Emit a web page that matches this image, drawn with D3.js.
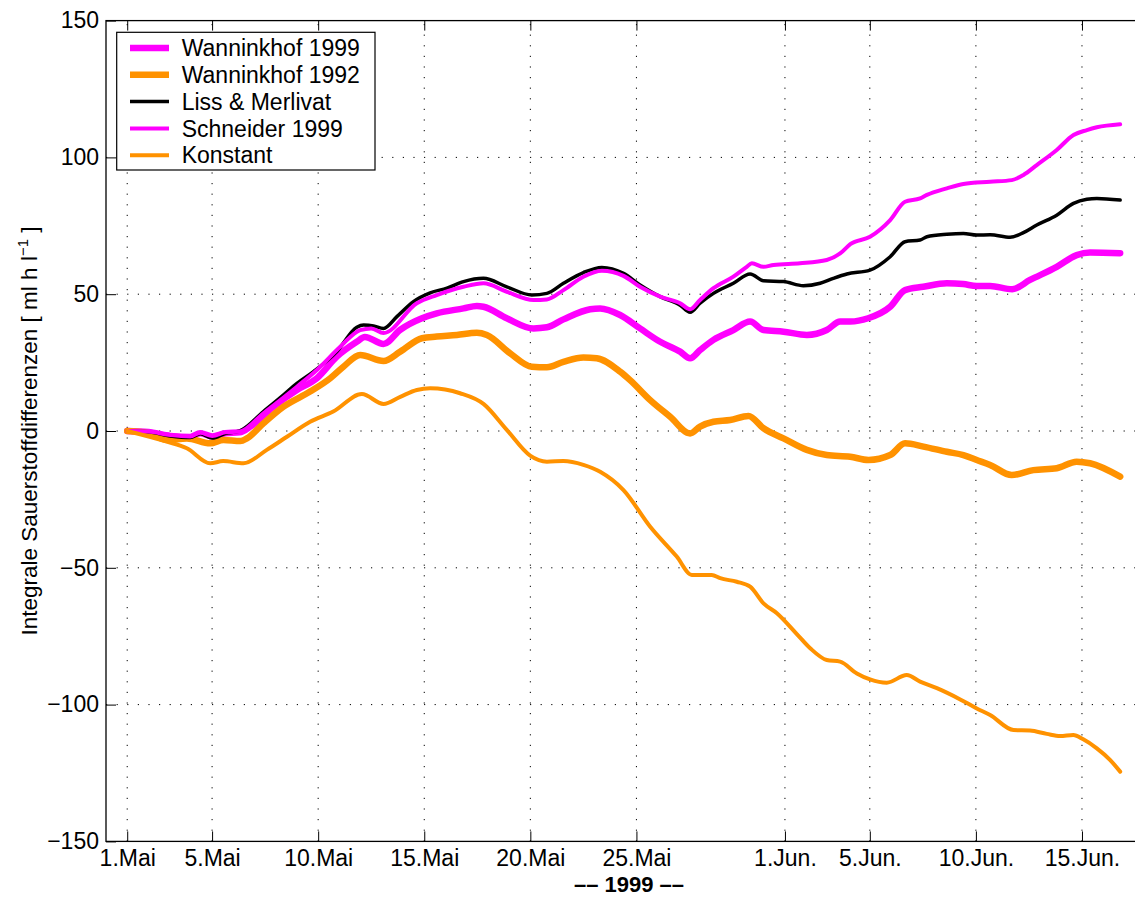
<!DOCTYPE html>
<html>
<head>
<meta charset="utf-8">
<script src="https://cdn.jsdelivr.net/npm/d3@7"></script>
<style>
  body { margin: 0; background: #fff; }
  svg { display: block; }
  text { font-family: "Liberation Sans", Arial, Helvetica, sans-serif; }
</style>
</head>
<body>
<svg id="chart" width="1135" height="914"></svg>
<script>
// Tage seit 1. Mai 1999 (0 = 1.Mai 00:00) und integrale Werte
const w99Tage  = [0, 0.99, 2.03, 2.97, 3.44, 4.01, 4.62, 5.3, 5.8, 6.89, 8.0, 8.94, 9.88, 10.82, 11.2, 12.08, 12.87, 13.89, 14.59, 15.85, 16.48, 16.79, 17.89, 19.15, 19.78, 20.56, 21.82, 22.29, 23.23, 24.17, 25.12, 26.06, 26.53, 27.0, 27.63, 28.57, 29.36, 29.99, 30.93, 32.03, 32.97, 33.6, 34.08, 34.92, 35.96, 36.66, 37.52, 38.63, 39.4, 40.04, 40.67, 41.71, 42.55, 43.81, 44.75, 45.38, 46.8];
const w99Werte = [0, -0.4, -1.8, -2.2, -0.8, -2.0, -0.8, -0.5, 1.6, 8.9, 15.0, 19.3, 27.2, 32.6, 34.4, 31.8, 37.0, 41.2, 43.0, 44.8, 45.7, 45.4, 41.2, 37.5, 37.9, 40.8, 44.5, 44.8, 42.4, 37.5, 32.6, 29.0, 26.6, 29.6, 33.3, 36.9, 40.0, 36.9, 36.3, 35.1, 36.9, 40.0, 40.0, 41.2, 45.4, 51.5, 52.7, 54.0, 53.7, 53.0, 53.0, 51.8, 55.2, 60.0, 64.3, 65.2, 65.0];

const w92Tage  = [0, 1.08, 1.87, 2.81, 3.91, 4.54, 5.33, 5.64, 6.42, 7.37, 8.62, 9.57, 10.19, 10.98, 12.08, 12.87, 13.89, 14.59, 15.54, 16.48, 16.95, 18.05, 19.07, 19.78, 20.56, 21.5, 22.13, 23.23, 23.7, 24.65, 25.59, 26.53, 27.0, 27.63, 28.42, 29.28, 29.99, 30.93, 32.03, 32.97, 34.08, 34.94, 35.96, 36.66, 37.53, 38.63, 39.41, 40.04, 40.67, 41.69, 42.71, 43.81, 44.75, 45.38, 46.8];
const w92Werte = [0, -0.9, -3.3, -2.7, -4.5, -3.3, -3.7, -2.7, 2.8, 8.9, 14.4, 19.3, 23.5, 27.8, 25.6, 29.0, 33.9, 34.5, 35.1, 35.9, 35.1, 28.4, 23.5, 23.3, 25.3, 26.9, 26.6, 21.7, 18.6, 11.3, 5.2, -0.9, 1.6, 3.4, 4.0, 5.5, 1.0, -2.7, -6.9, -8.8, -9.4, -10.6, -8.8, -4.5, -5.7, -7.6, -8.8, -10.6, -12.4, -16.1, -14.3, -13.6, -11.2, -11.8, -16.7];

const lmTage  = [0, 0.99, 2.03, 2.97, 3.44, 4.01, 4.62, 5.3, 6.42, 7.37, 8.0, 8.78, 9.88, 10.82, 11.14, 11.61, 12.08, 12.71, 13.49, 14.28, 15.07, 15.85, 16.79, 17.89, 19.07, 19.78, 20.56, 21.5, 22.37, 23.39, 24.17, 25.12, 26.06, 26.53, 27.0, 27.63, 28.57, 29.36, 29.99, 30.93, 31.87, 32.66, 33.28, 33.92, 35.01, 35.96, 36.66, 37.37, 37.69, 38.63, 39.41, 40.04, 40.67, 41.61, 42.24, 42.87, 43.81, 44.6, 45.23, 45.7, 46.8];
const lmWerte = [0, -0.3, -1.8, -2.4, -1.0, -2.6, -0.9, 0.0, 7.1, 13.2, 17.4, 21.7, 29.0, 37.9, 38.7, 38.4, 37.5, 41.8, 47.3, 50.5, 52.2, 54.6, 55.8, 52.7, 49.7, 50.3, 54.0, 57.9, 59.8, 57.6, 53.4, 49.1, 46.0, 43.4, 46.7, 50.3, 54.0, 57.4, 54.9, 54.6, 53.1, 54.0, 55.8, 57.4, 58.8, 63.7, 69.2, 69.8, 71.0, 71.9, 72.2, 71.6, 71.7, 70.8, 72.5, 75.3, 78.9, 83.2, 84.7, 85.0, 84.4];

const s99Tage  = [0, 0.99, 2.03, 2.97, 3.44, 4.01, 4.62, 5.3, 6.42, 8.0, 8.94, 10.04, 10.98, 11.5, 12.08, 13.65, 14.59, 15.85, 16.79, 17.89, 19.15, 19.78, 20.56, 21.5, 22.37, 23.39, 24.17, 25.12, 26.06, 26.53, 27.0, 27.63, 28.57, 29.2, 29.44, 29.99, 30.46, 31.71, 32.97, 33.6, 34.08, 35.01, 35.96, 36.66, 37.37, 37.69, 38.63, 39.41, 40.67, 41.69, 42.24, 42.87, 43.81, 44.6, 45.23, 45.7, 46.8];
const s99Werte = [0, -0.2, -1.5, -2.0, -0.6, -1.8, -0.5, -0.2, 6.5, 16.2, 22.3, 30.8, 36.9, 37.5, 35.8, 46.7, 49.7, 52.7, 54.0, 50.9, 47.9, 48.1, 51.5, 56.4, 58.6, 56.7, 52.7, 49.1, 46.7, 44.5, 47.9, 52.2, 56.4, 60.0, 61.3, 60.0, 60.7, 61.3, 62.5, 64.9, 68.3, 71.0, 77.1, 83.8, 85.0, 86.3, 88.7, 90.3, 91.1, 91.7, 93.6, 97.2, 102.7, 108.2, 110.0, 111.0, 112.1];

const konTage  = [0, 1.87, 2.81, 3.91, 4.52, 5.48, 6.58, 7.53, 8.62, 9.71, 11.06, 12.08, 12.87, 13.65, 14.28, 15.69, 16.79, 17.89, 18.99, 19.78, 20.56, 21.5, 22.29, 23.39, 24.65, 25.9, 26.61, 27.55, 27.95, 28.73, 29.36, 29.99, 30.62, 31.56, 32.19, 32.97, 33.6, 34.39, 35.01, 35.8, 36.74, 37.37, 38.16, 39.26, 40.04, 40.67, 41.77, 42.55, 43.34, 43.97, 44.59, 45.06, 45.7, 46.32, 46.8];
const konWerte = [0, -3.9, -6.3, -11.8, -11.0, -11.8, -6.9, -2.1, 3.4, 7.1, 13.5, 9.9, 12.5, 15.0, 15.6, 13.8, 9.9, 0.4, -9.0, -11.2, -11.0, -12.4, -14.9, -21.6, -35.0, -45.9, -52.6, -52.6, -53.8, -55.1, -56.9, -63.0, -66.6, -74.2, -79.4, -83.7, -84.3, -88.6, -90.8, -92.0, -89.2, -91.6, -94.0, -98.1, -101.4, -103.8, -109.3, -109.5, -110.7, -111.5, -111.1, -112.7, -116.0, -120.2, -124.5];

const serienNamen = ["Wanninkhof 1999", "Wanninkhof 1992", "Liss & Merlivat", "Schneider 1999", "Konstant"];

const xTickTage   = [0, 4, 9, 14, 19, 24, 31, 35, 40, 45];
const xTickLabels = ["1.Mai", "5.Mai", "10.Mai", "15.Mai", "20.Mai", "25.Mai", "1.Jun.", "5.Jun.", "10.Jun.", "15.Jun."];
const yTicks = [-150, -100, -50, 0, 50, 100, 150];

/////////////////////////////
const plotLeft = 106, plotRight = 1152, plotTop = 20.6, plotBottom = 841.4;
const fontSize = 23;
const orange = "#ff9200", magenta = "#ff00ff";

const t0 = Date.UTC(1999, 4, 1);
const toDate = d => new Date(t0 + d * 864e5);

const x = d3.scaleUtc().domain([toDate(-1), toDate(48.3)]).range([plotLeft, plotRight]);
const y = d3.scaleLinear().domain([-150, 150]).range([plotBottom, plotTop]);

const svg = d3.select("#chart");

svg.append("defs").append("clipPath").attr("id", "plotclip")
  .append("rect")
  .attr("x", plotLeft).attr("y", plotTop)
  .attr("width", plotRight - plotLeft).attr("height", plotBottom - plotTop);

// grid (dotted)
const grid = svg.append("g")
  .attr("stroke", "#000")
  .attr("stroke-width", 1)
  .attr("stroke-dasharray", "1.2,9.4");

grid.selectAll(".vgrid")
  .data(xTickTage)
  .enter().append("line")
  .attr("x1", d => x(toDate(d))).attr("x2", d => x(toDate(d)))
  .attr("y1", plotBottom).attr("y2", plotTop);

grid.selectAll(".hgrid")
  .data(yTicks.slice(1, -1))
  .enter().append("line")
  .attr("x1", plotLeft).attr("x2", plotRight)
  .attr("y1", d => y(d)).attr("y2", d => y(d));

// series
const series = [
  { name: serienNamen[0], tage: w99Tage, werte: w99Werte, color: magenta, width: 6.5 },
  { name: serienNamen[1], tage: w92Tage, werte: w92Werte, color: orange,  width: 6.5 },
  { name: serienNamen[2], tage: lmTage,  werte: lmWerte,  color: "#000",  width: 3.5 },
  { name: serienNamen[3], tage: s99Tage, werte: s99Werte, color: magenta, width: 4 },
  { name: serienNamen[4], tage: konTage, werte: konWerte, color: orange,  width: 4 }
];

const line = d3.line()
  .x(d => x(toDate(d[0])))
  .y(d => y(d[1]))
  .curve(d3.curveMonotoneX);

const gLines = svg.append("g").attr("clip-path", "url(#plotclip)");
series.forEach(s => {
  gLines.append("path")
    .datum(d3.zip(s.tage, s.werte))
    .attr("fill", "none")
    .attr("stroke", s.color)
    .attr("stroke-width", s.width)
    .attr("stroke-linejoin", "round")
    .attr("stroke-linecap", "round")
    .attr("d", line);
});

// axes
const tickDates = xTickTage.map(toDate);
const fmtY = d => d < 0 ? "\u2212" + Math.abs(d) : String(d);

const axB = svg.append("g").attr("transform", `translate(0,${plotBottom})`)
  .call(d3.axisBottom(x).tickValues(tickDates)
    .tickFormat((d, i) => xTickLabels[i])
    .tickSizeInner(-10).tickSizeOuter(0).tickPadding(8));
const axT = svg.append("g").attr("transform", `translate(0,${plotTop})`)
  .call(d3.axisTop(x).tickValues(tickDates).tickFormat("")
    .tickSizeInner(-10).tickSizeOuter(0));
const axL = svg.append("g").attr("transform", `translate(${plotLeft},0)`)
  .call(d3.axisLeft(y).tickValues(yTicks).tickFormat(fmtY)
    .tickSizeInner(-10).tickSizeOuter(0).tickPadding(7));
const axR = svg.append("g").attr("transform", `translate(${plotRight},0)`)
  .call(d3.axisRight(y).tickValues(yTicks).tickFormat("")
    .tickSizeInner(-10).tickSizeOuter(0));

[axB, axT, axL, axR].forEach(a => {
  a.select(".domain").remove();
  a.selectAll(".tick line").attr("stroke", "#000").attr("stroke-width", 1);
  a.selectAll("text")
    .attr("fill", "#000")
    .style("font-size", fontSize + "px")
    .style("font-family", '"Liberation Sans", Arial, sans-serif');
});

svg.append("rect")
  .attr("x", plotLeft).attr("y", plotTop)
  .attr("width", plotRight - plotLeft).attr("height", plotBottom - plotTop)
  .attr("fill", "none").attr("stroke", "#000").attr("stroke-width", 1.3);

// axis titles
svg.append("text")
  .attr("x", (plotLeft + plotRight) / 2).attr("y", 892)
  .attr("text-anchor", "middle")
  .style("font-size", "22px")
  .style("font-weight", "bold")
  .text("\u2013\u2013 1999 \u2013\u2013");

const yl = svg.append("text")
  .attr("transform", `translate(37,${(plotTop + plotBottom) / 2}) rotate(-90)`)
  .attr("text-anchor", "middle")
  .style("font-size", "22.5px");
yl.append("tspan").text("Integrale Sauerstoffdifferenzen [ ml h l");
yl.append("tspan").attr("dy", -9).style("font-size", "15px").text("\u22121");
yl.append("tspan").attr("dy", 9).text(" ]");

// legend
const lg = svg.append("g");
lg.append("rect")
  .attr("x", 116.7).attr("y", 32.3)
  .attr("width", 258.3).attr("height", 137.7)
  .attr("fill", "#fff").attr("stroke", "#000").attr("stroke-width", 1.2);

const rows = lg.selectAll(".row")
  .data(series)
  .enter().append("g")
  .attr("transform", (d, i) => `translate(0,${48 + i * 26.8})`);

rows.append("line")
  .attr("x1", 130).attr("x2", 169)
  .attr("stroke", d => d.color)
  .attr("stroke-width", d => d.width);

rows.append("text")
  .attr("x", 181.7).attr("dy", "0.36em")
  .style("font-size", fontSize + "px")
  .text(d => d.name);
</script>
</body>
</html>
